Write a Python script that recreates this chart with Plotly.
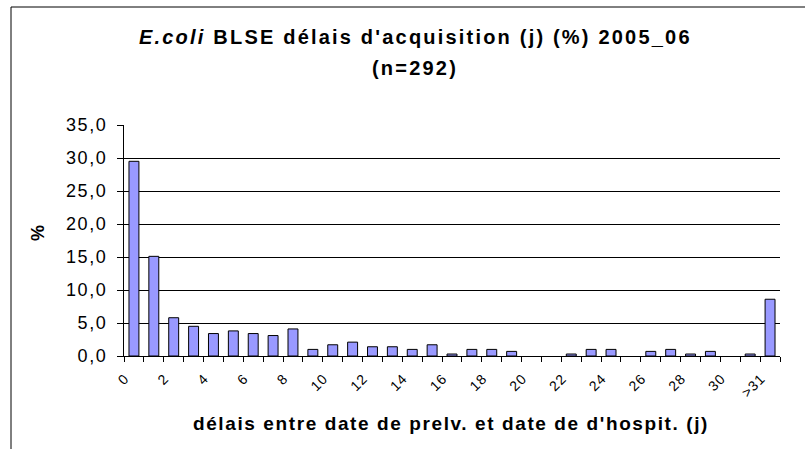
import plotly.graph_objects as go

categories = [str(i) for i in range(32)] + [">31"]
values = [29.5, 15.1, 5.8, 4.5, 3.4, 3.8, 3.4, 3.1, 4.1, 1.0,
          1.7, 2.1, 1.4, 1.4, 1.0, 1.7, 0.3, 1.0, 1.0, 0.7,
          0.0, 0.0, 0.3, 1.0, 1.0, 0.0, 0.7, 1.0, 0.3, 0.7,
          0.0, 0.3, 8.6]
y_ticks = [0, 5, 10, 15, 20, 25, 30, 35]

title_line1 = "<i>E.coli</i> BLSE délais d'acquisition (j) (%) 2005_06"
title_line2 = "(n=292)"
x_title = "délais entre date de prelv. et date de d'hospit. (j)"
y_title = "%"

FONT = "Liberation Sans, Arial, sans-serif"
W, H = 805, 449
L, R, T, B = 124, 25, 125, 93


def spaced(text, px, bold=False):
    s = '<span style="letter-spacing:%spx">%s</span>' % (px, text)
    return "<b>%s</b>" % s if bold else s


idx = list(range(len(categories)))
tickvals = idx[::2]
ticktext = [spaced(c, 0.8) for c in categories[::2]]
y_ticktext = [spaced(("%.1f" % v).replace(".", ","), 1.6) for v in y_ticks]

fig = go.Figure(go.Bar(
    x=idx, y=values, width=0.5,
    marker=dict(color="#9999FF",
                line=dict(color="black", width=[1 if v > 0 else 0 for v in values])),
))


def px_to_paper_x(px):
    return (px - L) / (W - L - R)


def px_to_paper_y(py):
    return (H - B - py) / (H - T - B)


fig.update_layout(
    width=W, height=H,
    margin=dict(l=L, r=R, t=T, b=B),
    paper_bgcolor="white", plot_bgcolor="white",
    showlegend=False,
    font=dict(family=FONT, color="black"),
)
fig.update_xaxes(
    range=[-0.5, len(categories) - 0.5],
    tickmode="array", tickvals=tickvals, ticktext=ticktext,
    tickangle=-45, ticks="", tickfont=dict(size=14), ticklabelshift=-9,
    ticklabelstandoff=8,
    showline=True, linecolor="black", linewidth=1,
    showgrid=False, zeroline=False,
    minor=dict(tickmode="linear", tick0=-0.5, dtick=1, ticks="outside",
               ticklen=5, tickcolor="black", tickwidth=1, showgrid=False),
)
fig.update_yaxes(
    range=[0, 35], tickmode="array", tickvals=y_ticks, ticktext=y_ticktext,
    ticks="outside", ticklen=6, tickcolor="black", tickwidth=1,
    tickfont=dict(size=18), ticklabelstandoff=6,
    showline=True, linecolor="black", linewidth=1,
    showgrid=True, gridcolor="black", gridwidth=1, zeroline=False,
)

fig.add_annotation(text=spaced(title_line1, 2.2, bold=True), xref="paper", yref="paper",
                   x=px_to_paper_x(415), y=px_to_paper_y(37),
                   showarrow=False, font=dict(size=20), xanchor="center", yanchor="middle")
fig.add_annotation(text=spaced(title_line2, 2.2, bold=True), xref="paper", yref="paper",
                   x=px_to_paper_x(415), y=px_to_paper_y(68),
                   showarrow=False, font=dict(size=20), xanchor="center", yanchor="middle")
fig.add_annotation(text=spaced(x_title, 1.6, bold=True), xref="paper", yref="paper",
                   x=px_to_paper_x(451), y=px_to_paper_y(423),
                   showarrow=False, font=dict(size=19), xanchor="center", yanchor="middle")
fig.add_annotation(text=spaced(y_title, 1, bold=True), xref="paper", yref="paper",
                   x=px_to_paper_x(38), y=px_to_paper_y(233),
                   showarrow=False, font=dict(size=18), textangle=-90,
                   xanchor="center", yanchor="middle")

fig.add_shape(type="rect", xref="paper", yref="paper",
              x0=px_to_paper_x(11), x1=px_to_paper_x(900),
              y0=px_to_paper_y(600), y1=px_to_paper_y(7),
              line=dict(color="black", width=1), layer="below")

fig.write_html("out.html", config={"displayModeBar": False},
               post_script="document.body.style.margin='0';")
